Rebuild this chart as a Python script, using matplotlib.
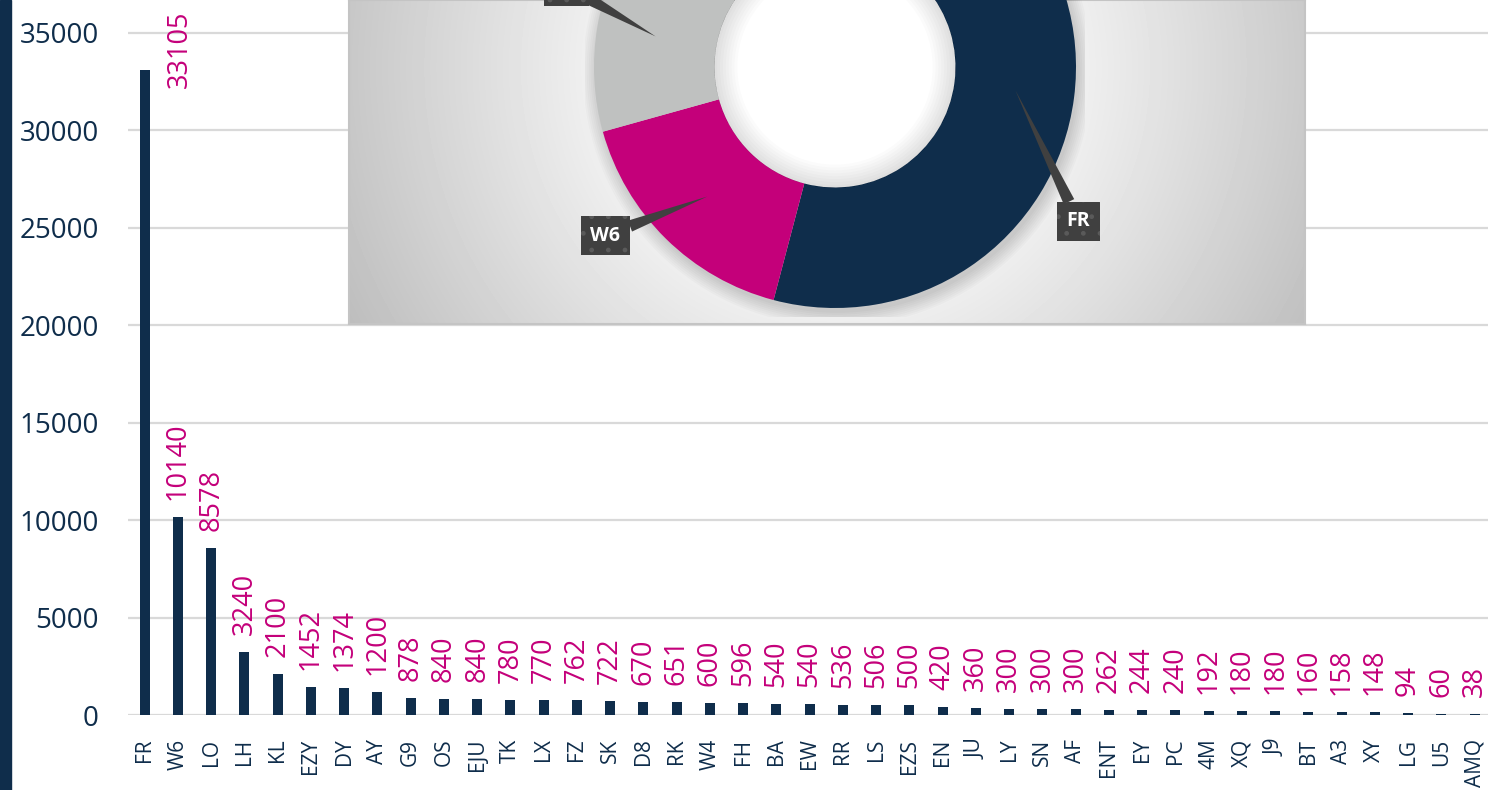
import numpy as np
import matplotlib.pyplot as plt
from matplotlib.patches import Rectangle, Circle, Wedge

plt.rcParams['font.family'] = ['Open Sans', 'DejaVu Sans']

# carriers and number of flights
carriers = ["FR", "W6", "LO", "LH", "KL", "EZY", "DY", "AY", "G9", "OS", "EJU",
            "TK", "LX", "FZ", "SK", "D8", "RK", "W4", "FH", "BA", "EW", "RR",
            "LS", "EZS", "EN", "JU", "LY", "SN", "AF", "ENT", "EY", "PC", "4M",
            "XQ", "J9", "BT", "A3", "XY", "LG", "U5", "AMQ"]
flights = [33105, 10140, 8578, 3240, 2100, 1452, 1374, 1200, 878, 840, 840,
           780, 770, 762, 722, 670, 651, 600, 596, 540, 540, 536,
           506, 500, 420, 360, 300, 300, 300, 262, 244, 240, 192,
           180, 180, 160, 158, 148, 94, 60, 38]
yticks = [0, 5000, 10000, 15000, 20000, 25000, 30000, 35000]

# donut shows the eight biggest carriers
donut_n = 8
donut_colors = ["#0f2d4b", "#c4007a", "#bfc1c0", "#5b7896",
                "#e05aa8", "#8a8c8b", "#27496d", "#d9d9d9"]
# label box offsets from the slice (pixels), only the visible ones
label_offsets = {"FR": (63, -131), "W6": (-102, -39), "LO": (-89, 50)}

navy = "#0f2d4b"
magenta = "#c4007a"
W, H = 1488, 790

fig = plt.figure(figsize=(W / 100, H / 100), dpi=100)
fig.patches.append(Rectangle((0, 0), 11 / W, 1, transform=fig.transFigure,
                             color=navy, zorder=10))

# ---- bar chart ----
ax = fig.add_axes([128 / W, 75 / H, (W - 128) / W, 715 / H])
x = np.arange(len(carriers))
ax.bar(x, flights, width=0.3, color=navy, zorder=2)
ax.set_xlim(-0.5, -0.5 + (W - 128) / 33.25)
ax.set_ylim(0, 36693)
ax.set_yticks(yticks)
ax.set_yticklabels([str(v) for v in yticks], fontsize=20, color=navy)
ax.set_xticks(x)
ax.set_xticklabels(carriers, rotation=90, fontsize=15, color=navy)
ax.tick_params(length=0)
ax.tick_params(axis='y', pad=21)
ax.tick_params(axis='x', pad=17)
ax.yaxis.grid(True, color="#d9d9d9", lw=1.6, zorder=0)
for s in ax.spines.values():
    s.set_visible(False)

for i, v in enumerate(flights):
    if i == 0:
        # label of the tallest bar was moved next to it
        ax.annotate(str(v), (i, v), xytext=(35, -18), textcoords='offset pixels',
                    rotation=90, ha='center', va='bottom', fontsize=19.5,
                    color=magenta)
    else:
        ax.annotate(str(v), (i, v), xytext=(0, 17), textcoords='offset pixels',
                    rotation=90, ha='center', va='bottom', fontsize=19.5,
                    color=magenta)

# ---- inset background with radial gradient ----
bg = fig.add_axes([349 / W, (H - 324) / H, (1305 - 349) / W, 324 / H])
xs, ys = np.meshgrid(np.arange(349, 1305), np.arange(0, 324))
d = np.hypot(xs - 835, ys - 67)
shade = np.clip(280 - 0.165 * d, 0, 255) / 255
bg.imshow(shade, cmap='gray', vmin=0, vmax=1, extent=(349, 1305, 324, 0),
          aspect='auto', interpolation='bilinear')
bg.set_xticks([])
bg.set_yticks([])
for s in bg.spines.values():
    s.set_color("#c4c4c4")
    s.set_linewidth(1.5)

# ---- donut ----
R = 241
dax = fig.add_axes([(835 - 250) / W, (H - 67 - 250) / H, 500 / W, 500 / H])
dax.set_facecolor('none')
for k in range(8):
    dax.add_patch(Circle((0.01, -0.02), 1 + 0.008 * k, fc='k', alpha=0.018, lw=0, zorder=0))
dax.add_patch(Circle((0, 0), 0.5, fc='white', lw=0, zorder=0.5))
wedges, _ = dax.pie(flights[:donut_n], colors=donut_colors, startangle=90,
                    counterclock=False, radius=1,
                    wedgeprops=dict(width=0.5, linewidth=0))
for k in range(8):
    dax.add_patch(Wedge((0, 0), 0.5 + 0.001, 0, 360, width=0.012 * (k + 1),
                        fc='k', alpha=0.015, lw=0, zorder=3))
lim = 250 / R
dax.set_xlim(-lim, lim)
dax.set_ylim(-lim, lim)
dax.axis('off')

for w, name in zip(wedges, carriers[:donut_n]):
    if name not in label_offsets:
        continue
    mid = np.deg2rad((w.theta1 + w.theta2) / 2)
    tip = (0.755 * np.cos(mid), 0.755 * np.sin(mid))
    dax.annotate(name, tip, xytext=label_offsets[name], textcoords='offset pixels',
                 ha='center', va='center', fontsize=14, fontweight='bold',
                 color='white', annotation_clip=False,
                 bbox=dict(boxstyle='square,pad=0.5', fc='#404040',
                           ec='#5a5a5a', lw=0, hatch='.'),
                 arrowprops=dict(arrowstyle='wedge,tail_width=0.6,shrink_factor=0.5',
                                 fc='#404040', ec='none', shrinkA=0, shrinkB=0))

fig.savefig("out.png", dpi=100)
